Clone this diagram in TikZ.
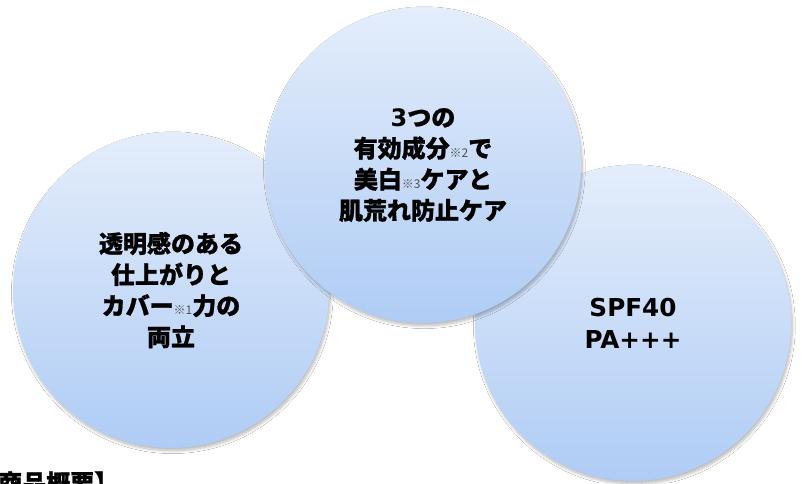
\documentclass[tikz,border=0pt]{standalone}
\usepackage{fontspec}
\setmainfont{Noto Sans CJK JP}[BoldFeatures={FakeBold=1}]
\newfontfamily\latinfont{DejaVu Sans}
\usetikzlibrary{shadows.blur}
\definecolor{bubbletop}{RGB}{228,237,251}
\definecolor{bubblebottom}{RGB}{175,204,245}
\definecolor{notegray}{RGB}{80,80,80}
\newcommand{\refmark}[1]{{\fontsize{9}{9}\selectfont\mdseries\color{notegray}※#1}}

\begin{document}
\begin{tikzpicture}[x=0.75pt, y=-0.75pt,
    bubble/.style={circle, minimum size=237pt, inner sep=0pt, align=center,
        top color=bubbletop, bottom color=bubblebottom, draw=none,
        blur shadow={shadow xshift=1pt, shadow yshift=-2pt, shadow blur steps=8, shadow opacity=28},
        font=\bfseries\fontsize{18}{23.3}\selectfont},
    heading/.style={anchor=base west, inner sep=0pt, font=\bfseries\fontsize{18}{18}\selectfont}]
    \clip (0,0) rectangle (802,483);
    \fill[white] (0,0) rectangle (802,483);
    % Three feature circles, the middle one last so it lies on top
    \node[bubble] (clarity) at (171,290) {透明感のある\\仕上がりと\\カバー\refmark{1}力の\\両立};
    \node[bubble, font=\latinfont\bfseries\fontsize{18.5}{24}\selectfont] (uvcut) at (633,323) {SPF40\\PA+++};
    \node[bubble] (actives) at (423,165) {{\latinfont 3}つの\\有効成分\refmark{2}で\\美白\refmark{3}ケアと\\肌荒れ防止ケア};
    % Heading cut off by the lower edge
    \node[heading] (summary) at (-26,492) {【商品概要】};
\end{tikzpicture}
\end{document}
